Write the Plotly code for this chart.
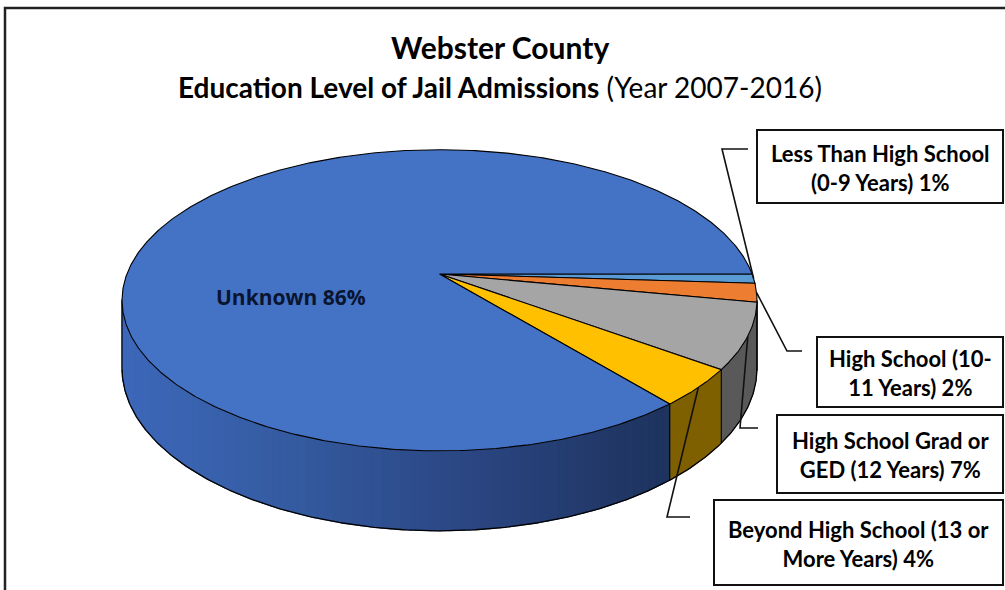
import numpy as np
import plotly.graph_objects as go

# ---- data ----
categories = [
    "Less Than High School (0-9 Years)",
    "High School (10-11 Years)",
    "High School Grad or GED (12 Years)",
    "Beyond High School (13 or More Years)",
    "Unknown",
]
shares = [1, 2, 7, 4, 86]
callout_lines = [
    ["Less Than High School", "(0-9 Years)"],
    ["High School (10-", "11 Years)"],
    ["High School Grad or", "GED (12 Years)"],
    ["Beyond High School (13 or", "More Years)"],
    ["Unknown"],
]
top_colors = ["#5B9BD5", "#ED7D31", "#A5A5A5", "#FFC000", "#4472C4"]
side_colors = ["#3C6E9E", "#A85420", "#595959", "#7F6000", None]  # None -> shaded blue

# ---- 3-D pie geometry (pixel space) ----
W, H = 1005, 590
CX, CY = 439.5, 274.0      # projected pie centre
R, A = 312.6, 146.0        # horizontal radius, vertical half-extent factor
P = 0.1745                 # perspective strength
DEPTH = 66.0               # thickness of the pie
START = 0.0                # first slice starts at 3 o'clock, runs clockwise


def rim(theta_deg, drop=0.0):
    t = np.radians(theta_deg)
    u, v = np.cos(t), np.sin(t)
    d = 1.0 - P * v
    return CX + R * u / d, CY + (A * v + drop) / d


def arc(a0, a1, drop=0.0, step=0.5):
    n = max(2, int(np.ceil(abs(a1 - a0) / step)) + 1)
    ts = np.linspace(a0, a1, n)
    xs, ys = rim(ts, drop)
    return list(xs), list(ys)


def blue_side(x):
    # darker towards the right of the front wall
    stops = [(120, (61, 104, 186)), (280, (53, 92, 162)), (460, (43, 71, 132)),
             (640, (31, 53, 98)), (700, (29, 50, 92))]
    for (x0, c0), (x1, c1) in zip(stops[:-1], stops[1:]):
        if x <= x1:
            f = min(max((x - x0) / (x1 - x0), 0), 1)
            c = [round(a + (b - a) * f) for a, b in zip(c0, c1)]
            return "rgb(%d,%d,%d)" % tuple(c)
    return "rgb(%d,%d,%d)" % stops[-1][1]


total = float(sum(shares))
bounds = START + 360.0 * np.concatenate([[0], np.cumsum(shares)]) / total
mids = (bounds[:-1] + bounds[1:]) / 2

fig = go.Figure()

# front wall (only the part facing the viewer)
vis0 = np.degrees(np.arcsin(P))
vis1 = 180.0 - vis0
for i in range(len(shares)):
    a0, a1 = max(bounds[i], vis0), min(bounds[i + 1], vis1)
    if a1 <= a0:
        continue
    if side_colors[i] is None:
        edges = np.linspace(a0, a1, max(2, int((a1 - a0) / 1.5) + 1))
        for t0, t1 in zip(edges[:-1], edges[1:]):
            tx, ty = arc(t0, t1 + 0.3, 0)
            bx, by = arc(t1 + 0.3, t0, DEPTH)
            col = blue_side(np.mean(tx))
            fig.add_trace(go.Scatter(
                x=tx + bx + [tx[0]], y=ty + by + [ty[0]], mode="lines",
                fill="toself", fillcolor=col, line=dict(color=col, width=0.8),
                hoverinfo="skip", showlegend=False))
    else:
        tx, ty = arc(a0, a1, 0)
        bx, by = arc(a1, a0, DEPTH)
        fig.add_trace(go.Scatter(
            x=tx + bx + [tx[0]], y=ty + by + [ty[0]], mode="lines",
            fill="toself", fillcolor=side_colors[i],
            line=dict(color=side_colors[i], width=0.8),
            hoverinfo="skip", showlegend=False))

# wall outlines: bottom rim, silhouettes and slice seams
bx, by = arc(vis0, vis1, DEPTH)
fig.add_trace(go.Scatter(x=bx, y=by, mode="lines", line=dict(color="black", width=1.3),
                         hoverinfo="skip", showlegend=False))
for t in [vis0, vis1] + [b for b in bounds[1:-1] if vis0 < b < vis1]:
    x0, y0 = rim(t, 0)
    x1, y1 = rim(t, DEPTH)
    fig.add_trace(go.Scatter(x=[x0, x1], y=[y0, y1], mode="lines",
                             line=dict(color="black", width=1.1),
                             hoverinfo="skip", showlegend=False))

# top faces
for i, name in enumerate(categories):
    xs, ys = arc(bounds[i], bounds[i + 1], 0)
    fig.add_trace(go.Scatter(
        x=[CX] + xs + [CX], y=[CY] + ys + [CY], mode="lines", fill="toself",
        fillcolor=top_colors[i], line=dict(color="black", width=1.1),
        name=name, hoveron="fills", text="%s: %d%%" % (name, shares[i]),
        hoverinfo="text", showlegend=False))

shapes = []
annotations = []

# callout boxes and leader lines for the small slices
boxes = [(757, 130, 1003, 203), (817, 337, 1003, 407),
         (777, 415, 1003, 493), (714, 500, 1003, 585)]
elbows = [((722, 149), (748, 149)), ((787, 351), (802, 351)),
          ((740, 428), (758, 428)), ((667, 517), (690, 517))]
for i in range(4):
    x0, y0, x1, y1 = boxes[i]
    shapes.append(dict(type="rect", xref="x", yref="y", x0=x0, y0=y0, x1=x1, y1=y1,
                       line=dict(color="#111", width=2), fillcolor="white", layer="above"))
    px, py = rim(mids[i], 0)
    (ex, ey), (hx, hy) = elbows[i]
    shapes.append(dict(type="path", xref="x", yref="y",
                       path="M %.1f %.1f L %.1f %.1f L %.1f %.1f" % (px, py, ex, ey, hx, hy),
                       line=dict(color="#111", width=1.6), layer="above"))
    lines = list(callout_lines[i])
    lines[-1] = "%s %d%%" % (lines[-1], shares[i])
    annotations.append(dict(
        x=(x0 + x1) / 2, y=(y0 + y1) / 2 + 1, xref="x", yref="y", showarrow=False,
        text="<br>".join("<b>%s</b>" % s for s in lines), align="center",
        font=dict(family="Lato", size=22, color="black")))

# label inside the large slice
annotations.append(dict(
    x=291, y=297, xref="x", yref="y", showarrow=False,
    text="<b>%s %d%%</b>" % (callout_lines[4][0], shares[4]),
    font=dict(family="Open Sans", size=21, color="#0a1530")))

# titles
annotations.append(dict(x=500, y=47, xref="x", yref="y", showarrow=False,
                        text="<b>Webster County</b>",
                        font=dict(family="Lato", size=30, color="black")))
annotations.append(dict(x=500, y=87, xref="x", yref="y", showarrow=False,
                        text="<b>Education Level of Jail Admissions</b> (Year 2007-2016)",
                        font=dict(family="Lato", size=28, color="black")))

# chart frame (left and top edges)
shapes.append(dict(type="path", xref="x", yref="y", path="M 5 592 L 5 8 L 1010 8",
                   line=dict(color="#222", width=2.5), layer="above"))

fig.update_layout(
    width=W, height=H, margin=dict(l=0, r=0, t=0, b=0),
    paper_bgcolor="white", plot_bgcolor="white",
    xaxis=dict(range=[0, W], visible=False, fixedrange=True),
    yaxis=dict(range=[H, 0], visible=False, fixedrange=True),
    shapes=shapes, annotations=annotations, showlegend=False,
)

fig.write_html("out.html")
